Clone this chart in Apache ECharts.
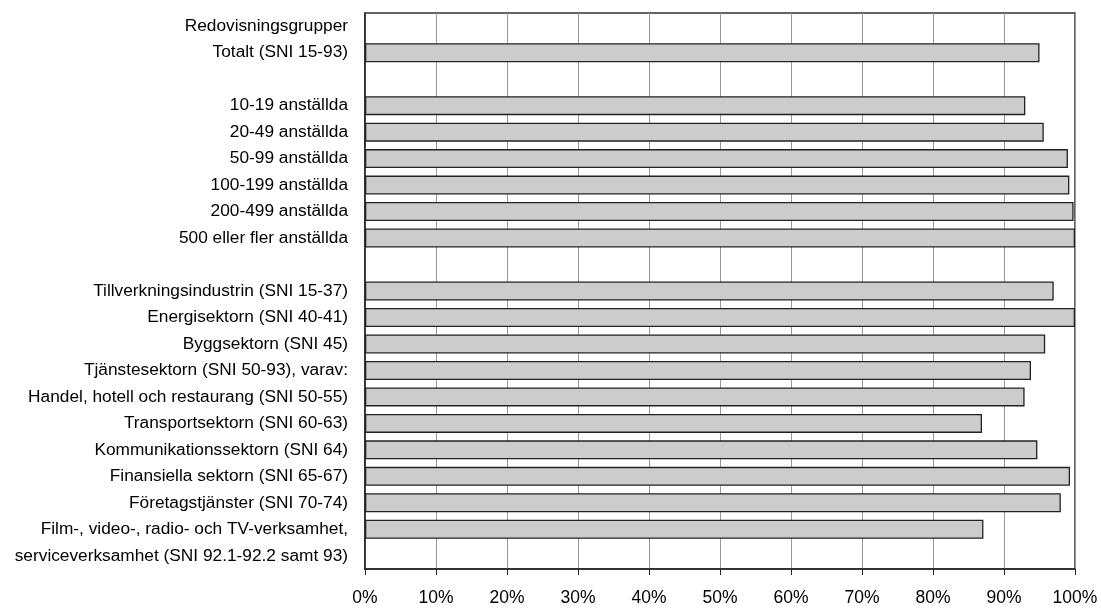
<!DOCTYPE html>
<html>
<head>
<meta charset="utf-8">
<script src="https://cdn.jsdelivr.net/npm/echarts@6/dist/echarts.min.js"></script>
<style>html,body{margin:0;padding:0;background:#fff}#c{width:1101px;height:608px}</style>
</head>
<body>
<div id="c"></div>
<script>
const categories = [
  "Redovisningsgrupper",
  "Totalt (SNI 15-93)",
  "",
  "10-19 anställda",
  "20-49 anställda",
  "50-99 anställda",
  "100-199 anställda",
  "200-499 anställda",
  "500 eller fler anställda",
  " ",
  "Tillverkningsindustrin (SNI 15-37)",
  "Energisektorn (SNI 40-41)",
  "Byggsektorn (SNI 45)",
  "Tjänstesektorn (SNI 50-93), varav:",
  "Handel, hotell och restaurang (SNI 50-55)",
  "Transportsektorn (SNI 60-63)",
  "Kommunikationssektorn (SNI 64)",
  "Finansiella sektorn (SNI 65-67)",
  "Företagstjänster (SNI 70-74)",
  "Film-, video-, radio- och TV-verksamhet,",
  "serviceverksamhet (SNI 92.1-92.2 samt 93)"
];
const values = [
  null, 95.0, null,
  93.0, 95.6, 99.0, 99.2, 99.8, 100,
  null,
  97.0, 100, 95.8, 93.8, 92.9, 86.9, 94.7, 99.3, 98.0, 87.1,
  null
];
const xTicks = [0, 10, 20, 30, 40, 50, 60, 70, 80, 90, 100];

const font = '"Liberation Sans", Arial, sans-serif';
const chart = echarts.init(document.getElementById('c'), null, {renderer: 'canvas'});
chart.setOption({
  animation: false,
  backgroundColor: '#fff',
  grid: {
    left: 365, right: 26, top: 13, bottom: 39,
    show: true, borderColor: '#333', borderWidth: 1.5,
    containLabel: false, outerBoundsMode: 'none'
  },
  xAxis: {
    type: 'value', min: xTicks[0], max: xTicks[xTicks.length - 1], interval: 10,
    axisLine: {show: true, lineStyle: {color: '#222', width: 1.5}},
    axisTick: {show: true, length: 6, lineStyle: {color: '#222'}},
    splitLine: {show: true, lineStyle: {color: '#999', width: 1}},
    axisLabel: {
      margin: 20, color: '#000', fontFamily: font, fontSize: 17.5,
      formatter: v => v + '%'
    }
  },
  yAxis: {
    type: 'category', data: categories, inverse: true,
    axisLine: {show: true, lineStyle: {color: '#222', width: 1.5}},
    axisTick: {show: false},
    splitLine: {show: false},
    axisLabel: {margin: 17, color: '#000', fontFamily: font, fontSize: 17.3, interval: 0}
  },
  series: [{
    type: 'bar', data: values, barWidth: 19,
    itemStyle: {color: '#cccccc', borderColor: '#222', borderWidth: 1.3},
    silent: true
  }]
});
</script>
</body>
</html>
